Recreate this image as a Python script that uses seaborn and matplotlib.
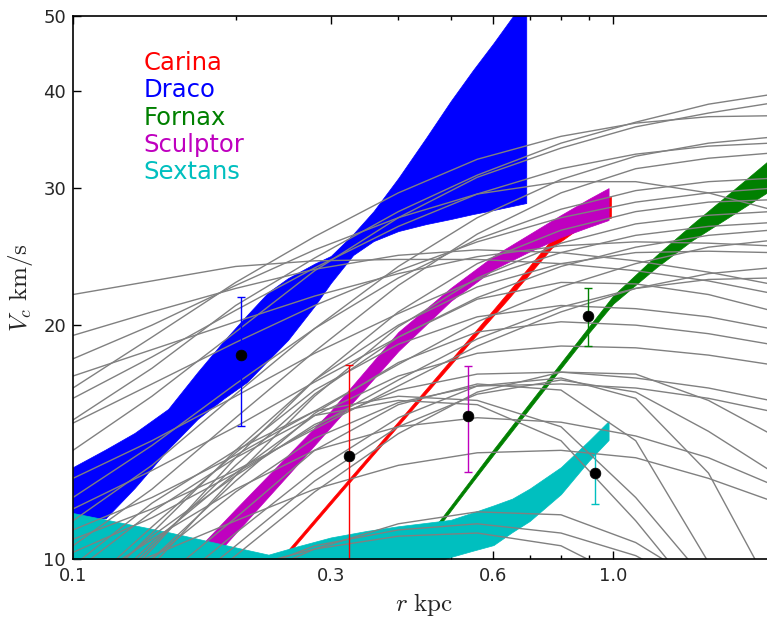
import numpy as np
import pandas as pd
import seaborn as sns
import matplotlib
matplotlib.use("Agg")
import matplotlib.pyplot as plt
from matplotlib.ticker import FixedLocator, FixedFormatter, NullFormatter, NullLocator

# ---------------------------------------------------------------- data
# radial nodes (kpc) for the simulated subhalo rotation curves
r_nodes = [0.1, 0.14, 0.2, 0.28, 0.4, 0.56, 0.8, 1.1, 1.5, 1.95]

# massive, still-rising subhaloes
halos_high = [
    [15.1, 17.6, 21.2, 24.4, 28.0, 31.2, 34.3, 36.5, 38.5, 39.6],
    [13.8, 16.2, 19.6, 23.5, 27.5, 31.0, 33.8, 36.0, 37.5, 38.6],
    [16.6, 19.3, 22.7, 26.0, 29.6, 32.7, 35.0, 36.4, 37.1, 37.2],
    [11.2, 13.2, 16.3, 19.8, 23.8, 27.5, 30.8, 33.0, 34.3, 34.9],
    [16.1, 18.2, 20.9, 23.7, 26.8, 29.5, 31.8, 33.2, 34.0, 34.3],
    [10.4, 12.3, 15.2, 18.5, 22.5, 26.2, 29.6, 31.8, 32.8, 33.3],
    [18.1, 20.0, 22.5, 25.0, 27.5, 29.5, 30.6, 30.6, 29.6, 28.2],
    [21.9, 22.8, 23.8, 24.2, 24.3, 24.3, 24.0, 23.5, 22.8, 22.0],
    [12.0, 14.0, 16.8, 19.8, 23.0, 25.8, 28.2, 29.8, 30.6, 30.9],
    [14.96, 16.8, 19.0, 21.2, 23.5, 25.6, 27.5, 28.8, 29.6, 30.0],
]

# intermediate subhaloes
halos_mid = [
    [19.4, 20.8, 22.3, 23.6, 24.6, 25.0, 24.8, 24.2, 23.4, 22.6],
    [17.2, 18.6, 20.2, 21.8, 23.3, 24.5, 25.3, 25.6, 25.5, 25.3],
    [12.7, 14.2, 16.2, 18.4, 20.7, 22.9, 24.8, 26.1, 26.8, 27.1],
    [11.6, 13.0, 14.8, 16.9, 19.3, 21.7, 23.8, 25.2, 26.1, 26.5],
    [10.9, 12.0, 13.6, 15.5, 17.8, 20.2, 22.4, 24.0, 25.2, 25.7],
    [10.6, 11.6, 13.0, 14.7, 16.7, 18.8, 20.8, 22.3, 23.3, 23.7],
    [10.2, 11.3, 12.9, 14.8, 17.0, 19.2, 21.1, 22.3, 22.9, 23.0],
]

# steeply rising subhaloes
halos_steep = [
    [8.0, 10.3, 13.5, 17.0, 20.8, 24.0, 26.5, 28.0, 28.8, 29.0],
    [7.6, 9.8, 12.8, 16.2, 19.9, 23.0, 25.5, 27.0, 27.7, 28.0],
    [8.6, 10.8, 13.8, 17.0, 20.0, 22.4, 24.0, 24.8, 24.9, 24.8],
    [8.2, 10.4, 13.2, 16.3, 19.3, 21.6, 22.7, 22.6, 21.9, 20.9],
    [8.9, 11.0, 13.7, 16.5, 18.9, 20.5, 21.2, 21.0, 20.5, 19.8],
    [7.9, 10.0, 12.6, 15.4, 17.9, 19.6, 20.2, 20.0, 19.5, 18.9],
    [8.4, 10.5, 12.9, 15.3, 17.2, 18.4, 18.8, 18.7, 18.3, 17.8],
    [8.8, 10.7, 12.8, 14.9, 16.5, 17.3, 17.4, 17.1, 16.6, 16.0],
    [8.1, 10.0, 12.2, 14.3, 15.9, 16.7, 16.8, 16.6, 16.1, 15.5],
    [9.1, 10.6, 12.3, 13.8, 14.8, 15.2, 15.0, 14.4, 13.5, 12.5],
]

# small, tidally truncated subhaloes
halos_low = [
    [9.6, 11.5, 13.5, 15.3, 16.0, 15.8, 14.2, 11.2, 8.6, 7.0],
    [9.8, 11.8, 13.8, 15.5, 16.2, 16.0, 14.8, 12.0, 9.3, 7.5],
    [7.5, 9.2, 11.3, 13.8, 15.8, 16.8, 16.5, 14.2, 9.9, 7.8],
    [7.2, 8.8, 10.8, 13.0, 15.2, 16.7, 17.1, 16.1, 12.9, 9.2],
    [7.0, 8.5, 10.4, 12.6, 14.8, 16.3, 17.0, 16.4, 14.6, 13.0],
    [6.8, 8.3, 10.1, 12.2, 14.5, 16.4, 17.4, 17.3, 16.0, 14.5],
    [9.0, 10.1, 11.2, 12.3, 13.2, 13.7, 13.8, 13.5, 12.7, 11.9],
    [7.5, 8.3, 9.3, 10.3, 11.1, 11.5, 11.4, 10.5, 9.2, 8.0],
    [7.6, 8.5, 9.5, 10.4, 10.9, 11.1, 10.8, 10.1, 9.0, 8.0],
    [8.0, 8.8, 9.7, 10.3, 10.7, 10.8, 10.4, 9.3, 8.2, 7.4],
]

# dwarf spheroidal mass-model bands (lower / upper Vc in km/s)
carina_r = [0.22, 0.25, 0.3, 0.35, 0.43, 0.55, 0.64, 0.77, 0.87, 0.99]
carina_lo = [9.15, 10.15, 11.77, 13.33, 15.75, 19.2, 21.65, 25.17, 26.75, 27.5]
carina_hi = [9.27, 10.27, 11.91, 13.49, 15.95, 19.5, 22.1, 25.83, 27.85, 29.3]

draco_r = [0.1, 0.115, 0.13, 0.15, 0.17, 0.19, 0.21, 0.23, 0.25, 0.28,
           0.3, 0.33, 0.36, 0.4, 0.45, 0.5, 0.55, 0.6, 0.65, 0.69]
draco_lo = [11.16, 11.29, 12.34, 13.85, 15.14, 16.09, 16.9, 18.04, 19.14, 21.17,
            22.66, 24.62, 25.66, 26.43, 26.98, 27.39, 27.8, 28.13, 28.47, 28.72]
draco_hi = [13.13, 13.84, 14.53, 15.6, 17.4, 19.08, 20.61, 22.06, 22.99, 24.0,
            24.55, 26.2, 28.04, 30.93, 34.83, 38.85, 42.6, 46.14, 49.84, 52.7]

fornax_r = [0.4, 0.45, 0.5, 0.55, 0.6, 0.7, 0.8, 0.9, 1.0, 1.2, 1.4, 1.6, 1.95]
fornax_lo = [9.40, 10.47, 11.54, 12.59, 13.62, 15.63, 17.60, 19.53, 21.32, 23.72, 25.72, 27.28, 29.8]
fornax_hi = [9.54, 10.63, 11.70, 12.77, 13.84, 15.89, 17.90, 19.89, 21.84, 24.58, 26.98, 29.14, 32.7]

sculptor_r = [0.16, 0.2, 0.25, 0.3, 0.4, 0.5, 0.6, 0.7, 0.8, 0.9, 0.98]
sculptor_lo = [9.09, 10.8, 12.83, 14.79, 18.52, 21.48, 23.59, 24.88, 25.96, 26.75, 27.31]
sculptor_hi = [9.85, 11.6, 13.61, 15.51, 19.6, 22.33, 24.55, 26.2, 27.72, 29.07, 30.02]

sextans_r = [0.1, 0.15, 0.2, 0.23, 0.26, 0.3, 0.35, 0.4, 0.45, 0.5,
             0.55, 0.6, 0.65, 0.7, 0.8, 0.9, 0.98]
sextans_lo = [8.5, 8.6, 8.7, 8.8, 8.9, 9.1, 9.3, 9.55, 9.8, 10.06,
              10.25, 10.42, 10.83, 11.19, 12.12, 13.37, 14.23]
sextans_hi = [11.46, 10.83, 10.35, 10.13, 10.38, 10.66, 10.87, 11.02, 11.13, 11.23,
              11.48, 11.72, 11.96, 12.32, 13.13, 14.19, 15.05]

# measured Vc at the half-light radius with uncertainties
galaxies = ["Carina", "Draco", "Fornax", "Sculptor", "Sextans"]
gal_colors = ["r", "b", "g", "m", "c"]
obs_r = [0.3245, 0.205, 0.897, 0.538, 0.924]
obs_v = [13.57, 18.3, 20.56, 15.3, 12.91]
obs_v_hi = [17.77, 21.71, 22.3, 17.71, 14.1]
obs_v_lo = [6.0, 14.84, 18.81, 12.95, 11.76]

# ---------------------------------------------------------------- style
sns.set_style("ticks")
plt.rcParams.update({
    "font.family": ["DejaVu Sans"],
    "mathtext.fontset": "cm",
    "axes.linewidth": 1.2,
    "xtick.direction": "in",
    "ytick.direction": "in",
    "xtick.top": True,
    "ytick.right": True,
})

fig = plt.figure(figsize=(7.67, 6.19), dpi=100)
# the frame runs slightly past the right edge of the canvas
ax = fig.add_axes([73 / 767, 1 - 559 / 619, 703 / 767, 543 / 619])
ax.set_xscale("log")
ax.set_yscale("log")

# ---------------------------------------------------------------- bands
bands = [
    (carina_r, carina_lo, carina_hi),
    (draco_r, draco_lo, draco_hi),
    (fornax_r, fornax_lo, fornax_hi),
    (sculptor_r, sculptor_lo, sculptor_hi),
    (sextans_r, sextans_lo, sextans_hi),
]
for (br, blo, bhi), col in zip(bands, gal_colors):
    ax.fill_between(br, blo, bhi, facecolor=col, edgecolor=col,
                    linewidth=0.5, zorder=1)

# ---------------------------------------------------------------- subhalo curves
all_curves = halos_high + halos_mid + halos_steep + halos_low
rows = []
for i, vc in enumerate(all_curves):
    for r, v in zip(r_nodes, vc):
        rows.append({"r": r, "Vc": v, "halo": i})
df = pd.DataFrame(rows)
sns.lineplot(data=df, x="r", y="Vc", units="halo", estimator=None,
             color="gray", linewidth=1.0, sort=False, legend=False, ax=ax, zorder=2)

# ---------------------------------------------------------------- measurements
for r, v, vhi, vlo, col in zip(obs_r, obs_v, obs_v_hi, obs_v_lo, gal_colors):
    ax.errorbar([r], [v], yerr=[[v - vlo], [vhi - v]], fmt="none",
                ecolor=col, elinewidth=1.0, capsize=3, capthick=1.0, zorder=3)
sns.scatterplot(x=obs_r, y=obs_v, color="black", s=60, edgecolor="black",
                linewidth=0.5, ax=ax, zorder=4, legend=False)

# ---------------------------------------------------------------- labels
for k, (name, col) in enumerate(zip(galaxies, gal_colors)):
    ax.text(0.1, 0.9 - 0.05 * k, name, color=col, fontsize=17.5,
            transform=ax.transAxes, va="baseline", ha="left")

ax.set_xlim(0.1, 2.0)
ax.set_ylim(10, 50)

xt = [0.1, 0.3, 0.6, 1.0]
ax.xaxis.set_major_locator(FixedLocator(xt))
ax.xaxis.set_major_formatter(FixedFormatter(["0.1", "0.3", "0.6", "1.0"]))
ax.xaxis.set_minor_locator(FixedLocator([0.2, 0.4, 0.5, 0.7, 0.8, 0.9]))
ax.xaxis.set_minor_formatter(NullFormatter())
yt = [10, 20, 30, 40, 50]
ax.yaxis.set_major_locator(FixedLocator(yt))
ax.yaxis.set_major_formatter(FixedFormatter([str(t) for t in yt]))
ax.yaxis.set_minor_locator(NullLocator())

ax.tick_params(which="major", length=6, width=1.0, labelsize=13, pad=6,
               top=True, right=True, direction="in", color="black")
ax.tick_params(which="minor", length=3, width=1.0, top=True, right=True,
               direction="in", color="black")
ax.tick_params(axis="y", pad=5)

ax.set_xlabel(r"$r\ \mathrm{kpc}$", fontsize=18, labelpad=4)
ax.set_ylabel(r"$V_c\ \mathrm{km/s}$", fontsize=18, labelpad=6)

for s in ax.spines.values():
    s.set_color("black")
    s.set_zorder(5)

fig.savefig("out.png", dpi=100)
